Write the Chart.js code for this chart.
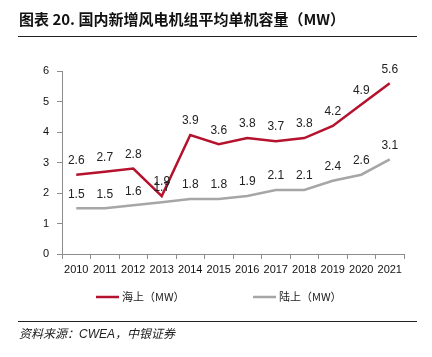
<!DOCTYPE html>
<html><head><meta charset="utf-8">
<script src="https://cdn.jsdelivr.net/npm/chart.js@4"></script>
<style>
html,body{margin:0;padding:0;background:#fff;}
#wrap{position:relative;width:432px;height:357px;overflow:hidden;}
canvas{position:absolute;left:0;top:0;}
#title{position:absolute;left:19px;top:8px;font:bold 15px "Noto Sans CJK SC",sans-serif;color:#111;white-space:nowrap;}
#rule1{position:absolute;left:18px;top:36px;width:399px;height:1px;background:#222;}
#rule2{position:absolute;left:18px;top:321px;width:399px;height:1px;background:#222;}
#src{position:absolute;left:19px;top:324px;font:italic 12px "Noto Sans CJK SC",sans-serif;color:#222;white-space:nowrap;}
</style></head>
<body><div id="wrap">
<canvas id="c" width="432" height="357"></canvas>
<div id="title">图表 20. 国内新增风电机组平均单机容量（MW）</div>
<div id="rule1"></div>
<div id="src">资料来源：<span style="font-family:'Liberation Sans',Arial,sans-serif">CWEA</span>，中银证券</div>
<div id="rule2"></div>
</div>
<script>
const years = ['2010','2011','2012','2013','2014','2015','2016','2017','2018','2019','2020','2021'];
const offshore = [2.6,2.7,2.8,1.9,3.9,3.6,3.8,3.7,3.8,4.2,4.9,5.6];
const onshore  = [1.5,1.5,1.6,1.7,1.8,1.8,1.9,2.1,2.1,2.4,2.6,3.1];
const seriesNames = ['海上（MW）','陆上（MW）'];
const yTicks = [0,1,2,3,4,5,6];

const labelPlugin = {
  id:'labels',
  afterDatasetsDraw(chart){
    const ctx = chart.ctx;
    ctx.save();
    ctx.font = '12px "Liberation Sans", Arial, sans-serif';
    ctx.fillStyle = '#222';
    ctx.textAlign = 'center';
    ctx.textBaseline = 'bottom';
    chart.data.datasets.forEach((ds,i)=>{
      const meta = chart.getDatasetMeta(i);
      meta.data.forEach((pt,j)=>{
        ctx.fillText(ds.data[j].toFixed(1), pt.x, pt.y - 8);
      });
    });
    ctx.restore();
  }
};
const legendPlugin = {
  id:'customLegend',
  afterDraw(chart){
    const ctx = chart.ctx;
    const xs = [96, 253];
    const y = 297;
    ctx.save();
    ctx.font = '11px "Noto Sans CJK SC", sans-serif';
    ctx.textBaseline = 'middle';
    ctx.textAlign = 'left';
    chart.data.datasets.forEach((ds,i)=>{
      ctx.strokeStyle = ds.borderColor;
      ctx.lineWidth = 2.5;
      ctx.beginPath();
      ctx.moveTo(xs[i], y); ctx.lineTo(xs[i]+23, y);
      ctx.stroke();
      ctx.fillStyle = '#222';
      ctx.fillText(ds.label, xs[i]+26, y);
    });
    ctx.restore();
  }
};

new Chart(document.getElementById('c'), {
  type:'line',
  data:{
    labels: years,
    datasets:[
      {label:seriesNames[0], data:offshore, borderColor:'#B5122E', backgroundColor:'#B5122E', borderWidth:2.5, pointRadius:0, tension:0},
      {label:seriesNames[1], data:onshore, borderColor:'#A6A6A6', backgroundColor:'#A6A6A6', borderWidth:2.5, pointRadius:0, tension:0}
    ]
  },
  options:{
    responsive:false,
    animation:false,
    events:[],
    layout:{padding:{left:0,right:28,top:71,bottom:80}},
    plugins:{legend:{display:false},tooltip:{enabled:false}},
    scales:{
      x:{
        offset:true,
        grid:{display:true,drawOnChartArea:false,drawTicks:true,tickLength:5,color:'#8c8c8c',offset:true},
        border:{display:true,color:'#8c8c8c',width:1},
        ticks:{font:{family:'"Liberation Sans", Arial, sans-serif',size:11},color:'#111',maxRotation:0,autoSkip:false,padding:4},
        afterFit(s){s.height = 23;}
      },
      y:{
        min:0,max:6,
        afterBuildTicks(s){s.ticks = yTicks.map(v=>({value:v}));},
        grid:{display:true,drawOnChartArea:false,drawTicks:true,tickLength:5,color:'#8c8c8c'},
        border:{display:true,color:'#8c8c8c',width:1},
        ticks:{font:{family:'"Liberation Sans", Arial, sans-serif',size:11},color:'#111',padding:8},
        afterFit(s){s.width = 62;}
      }
    }
  },
  plugins:[labelPlugin, legendPlugin]
});
</script>
</body></html>
